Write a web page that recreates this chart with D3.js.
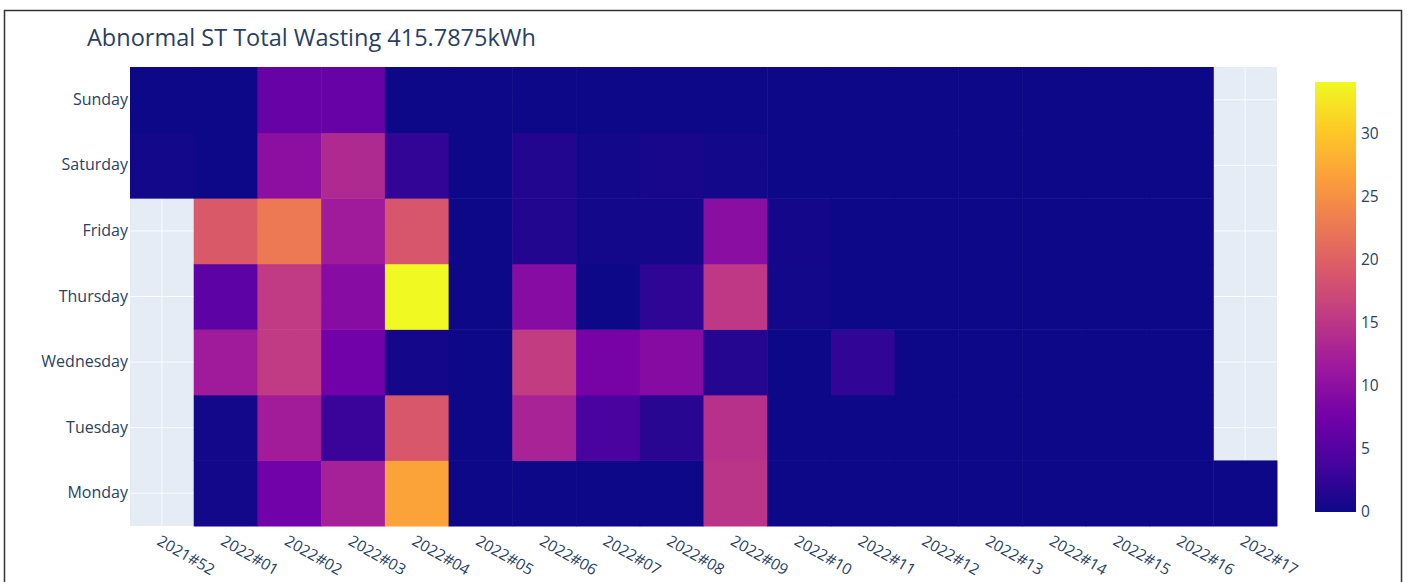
<!DOCTYPE html>
<html>
<head>
<meta charset="utf-8">
<script src="https://cdn.jsdelivr.net/npm/d3@7"></script>
<style>
  html, body { margin: 0; padding: 0; background: #fff; }
  svg { display: block; font-family: "Open Sans", "Noto Sans", sans-serif; }
</style>
</head>
<body>
<svg id="chart" width="1408" height="582"></svg>
<script>
// ISO weeks on the x axis, weekdays on the y axis (Monday at the bottom)
const weeks = ["2021#52", "2022#01", "2022#02", "2022#03", "2022#04", "2022#05",
  "2022#06", "2022#07", "2022#08", "2022#09", "2022#10", "2022#11", "2022#12",
  "2022#13", "2022#14", "2022#15", "2022#16", "2022#17"];
const days = ["Monday", "Tuesday", "Wednesday", "Thursday", "Friday", "Saturday", "Sunday"];

// Wasted energy (kWh) per day; null = no data for that day
const monday    = [null, 0.3, 7.5, 12.5, 26.8, 0, 0, 0, 0, 14.8, 0, 0, 0, 0, 0, 0, 0, 0];
const tuesday   = [null, 0.4, 12, 3, 19, 0, 12.8, 4.2, 1.8, 14.5, 0, 0, 0, 0, 0, 0, 0, null];
const wednesday = [null, 11.8, 15.6, 7.5, 0.5, 0, 15.8, 8, 9.3, 1.5, 0, 2.4, 0, 0, 0, 0, 0, null];
const thursday  = [null, 5.8, 15.6, 9.4, 34.1, 0, 9.5, 0, 2.2, 15.3, 0.3, 0, 0, 0, 0, 0, 0, null];
const friday    = [null, 19.2, 22.6, 11.8, 18.8, 0, 1.4, 0.3, 0.5, 9.8, 0.5, 0, 0, 0, 0, 0, 0, null];
const saturday  = [0.3, 0, 10, 13.6, 2.5, 0, 1.4, 0.4, 0.7, 0.4, 0, 0, 0, 0, 0, 0, 0, null];
const sunday    = [0, 0, 6.6, 6.6, 0, 0, 0, 0, 0, 0, 0, 0, 0, 0, 0, 0, 0, null];

const colorbarTicks = [0, 5, 10, 15, 20, 25, 30];
const titleText = "Abnormal ST Total Wasting 415.7875kWh";

const rows = { Monday: monday, Tuesday: tuesday, Wednesday: wednesday, Thursday: thursday,
  Friday: friday, Saturday: saturday, Sunday: sunday };

const cells = [];
days.forEach(d => rows[d].forEach((v, i) => {
  if (v !== null) cells.push({ day: d, week: weeks[i], value: v });
}));

const zmin = 0;
const zmax = d3.max(cells, c => c.value);

// Plasma colour scale
const plasma = ["#0d0887", "#46039f", "#7201a8", "#9c179e", "#bd3786",
  "#d8576b", "#ed7953", "#fb9f3a", "#fdca26", "#f0f921"];
const color = d3.scaleLinear()
  .domain(plasma.map((_, i) => zmin + (zmax - zmin) * i / (plasma.length - 1)))
  .range(plasma)
  .interpolate(d3.interpolateRgb)
  .clamp(true);

const svg = d3.select("#chart");
const ink = "#2a3f5f";
const plot = { left: 130, right: 1277, top: 67, bottom: 526 };

// outer frame
svg.append("rect")
  .attr("x", 4.5).attr("y", 10.5).attr("width", 1397).attr("height", 600)
  .attr("fill", "none").attr("stroke", "#333").attr("stroke-width", 1.5);

const x = d3.scaleBand().domain(weeks).range([plot.left, plot.right]).padding(0);
const y = d3.scaleBand().domain(days).range([plot.bottom, plot.top]).padding(0);

// plot background and grid
svg.append("rect")
  .attr("x", plot.left).attr("y", plot.top)
  .attr("width", plot.right - plot.left).attr("height", plot.bottom - plot.top)
  .attr("fill", "#E5ECF6");
const grid = svg.append("g").attr("stroke", "#fff").attr("stroke-width", 1).attr("stroke-opacity", 0.8);
grid.selectAll("line.gx").data(weeks).join("line")
  .attr("x1", d => x(d) + x.bandwidth() / 2).attr("x2", d => x(d) + x.bandwidth() / 2)
  .attr("y1", plot.top).attr("y2", plot.bottom);
grid.selectAll("line.gy").data(days).join("line")
  .attr("y1", d => y(d) + y.bandwidth() / 2).attr("y2", d => y(d) + y.bandwidth() / 2)
  .attr("x1", plot.left).attr("x2", plot.right);

// heatmap cells
svg.append("g").selectAll("rect").data(cells).join("rect")
  .attr("x", d => x(d.week))
  .attr("y", d => y(d.day))
  .attr("width", x.bandwidth() + 0.5)
  .attr("height", y.bandwidth() + 0.5)
  .attr("fill", d => color(d.value));

// y axis labels
const yAxis = svg.append("g")
  .attr("transform", `translate(${plot.left - 2},0)`)
  .call(d3.axisLeft(y).tickSize(0).tickPadding(0));
yAxis.select(".domain").remove();
yAxis.selectAll("text").attr("fill", ink).style("font-size", "16px")
  .style("font-family", "'Open Sans', sans-serif");

// x axis labels, rotated 30 degrees
const xAxis = svg.append("g")
  .attr("transform", `translate(0,${plot.bottom})`)
  .call(d3.axisBottom(x).tickSize(0).tickPadding(0));
xAxis.select(".domain").remove();
xAxis.selectAll("text")
  .attr("fill", ink)
  .style("font-size", "15.5px")
  .style("font-family", "'Open Sans', sans-serif")
  .attr("text-anchor", "start")
  .attr("y", 0).attr("dy", "0.75em")
  .attr("transform", "translate(0,8) rotate(30)");

// colour bar
const cb = { x: 1315, width: 41, top: 82, bottom: 512 };
const defs = svg.append("defs");
const grad = defs.append("linearGradient").attr("id", "plasmaGrad")
  .attr("x1", 0).attr("y1", 1).attr("x2", 0).attr("y2", 0);
plasma.forEach((c, i) => grad.append("stop")
  .attr("offset", i / (plasma.length - 1)).attr("stop-color", c));
svg.append("rect")
  .attr("x", cb.x).attr("y", cb.top).attr("width", cb.width).attr("height", cb.bottom - cb.top)
  .attr("fill", "url(#plasmaGrad)");
const cbScale = d3.scaleLinear().domain([zmin, zmax]).range([cb.bottom, cb.top]);
const cbAxis = svg.append("g")
  .attr("transform", `translate(${cb.x + cb.width},0)`)
  .call(d3.axisRight(cbScale).tickValues(colorbarTicks).tickSize(0).tickPadding(5));
cbAxis.select(".domain").remove();
cbAxis.selectAll("text").attr("fill", ink).style("font-size", "15.5px")
  .style("font-family", "'Open Sans', sans-serif");

// title
svg.append("text")
  .attr("x", 87).attr("y", 46)
  .attr("fill", ink)
  .style("font-size", "23.5px")
  .style("font-family", "'Open Sans', sans-serif")
  .text(titleText);
</script>
</body>
</html>
